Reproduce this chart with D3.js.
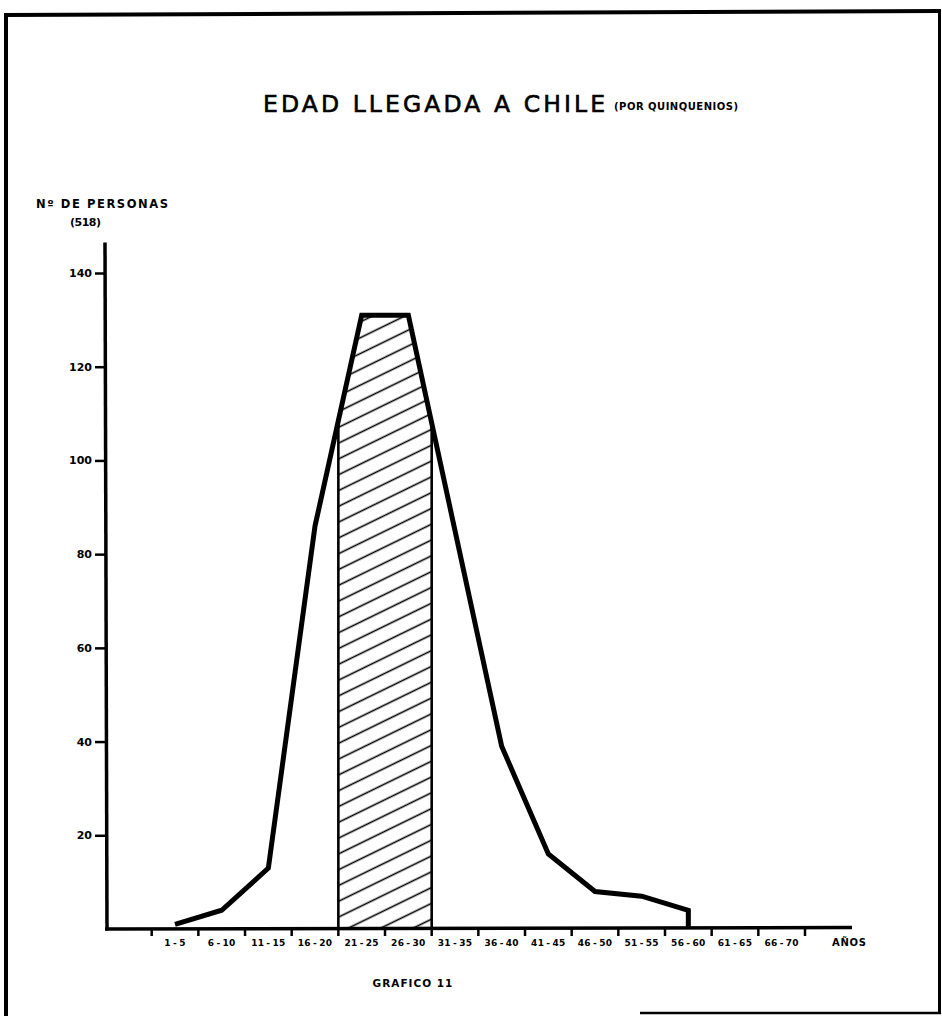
<!DOCTYPE html>
<html>
<head>
<meta charset="utf-8">
<script src="https://cdn.jsdelivr.net/npm/d3@7"></script>
<style>
  html, body { margin: 0; padding: 0; background: #fff; }
  svg { display: block; }
  text { font-family: "DejaVu Sans", "Liberation Sans", sans-serif; fill: #000; }
</style>
</head>
<body>
<svg id="chart" width="942" height="1016"></svg>
<script>
// ---- data ----
const categories = ["1-5","6-10","11-15","16-20","21-25","26-30","31-35","36-40","41-45","46-50","51-55","56-60","61-65","66-70"];
const persons    = [1, 4, 13, 86, 131, 131, 85, 39, 16, 8, 7, 4];   // last two classes empty
const yTicks     = [20, 40, 60, 80, 100, 120, 140];
const highlighted = ["21-25", "26-30"];

const svg = d3.select("#chart");

// frame
const frame = svg.append("g").attr("stroke", "#000").attr("fill", "none");
frame.append("line").attr("x1", 4).attr("y1", 15).attr("x2", 941).attr("y2", 11).attr("stroke-width", 4);
frame.append("line").attr("x1", 6).attr("y1", 13).attr("x2", 6).attr("y2", 1016).attr("stroke-width", 4);
frame.append("line").attr("x1", 939.5).attr("y1", 10).attr("x2", 939.5).attr("y2", 1012).attr("stroke-width", 3);
frame.append("line").attr("x1", 640).attr("y1", 1013).attr("x2", 941).attr("y2", 1013).attr("stroke-width", 2.5);

// scales
const x = d3.scaleBand().domain(categories).range([151.7, 805]).paddingInner(0).paddingOuter(0);
const y = d3.scaleLinear().domain([0, 140]).range([929, 273]);
const bw = x.bandwidth();
const cx = c => x(c) + bw / 2;

// title
svg.append("text").attr("x", 263).attr("y", 112)
  .attr("font-size", 23.5).attr("textLength", 342).attr("lengthAdjust", "spacing")
  .attr("stroke", "#000").attr("stroke-width", 0.6)
  .text("EDAD LLEGADA A CHILE");
svg.append("text").attr("x", 614).attr("y", 110)
  .attr("font-size", 10).attr("font-weight", "bold").attr("textLength", 124).attr("lengthAdjust", "spacing")
  .text("(POR QUINQUENIOS)");

// y label
svg.append("text").attr("x", 36).attr("y", 208)
  .attr("font-size", 11.5).attr("font-weight", "bold").attr("textLength", 132).attr("lengthAdjust", "spacing")
  .text("Nº DE PERSONAS");
svg.append("text").attr("x", 70).attr("y", 226)
  .attr("font-size", 11).attr("font-weight", "bold").attr("textLength", 31).attr("lengthAdjust", "spacing")
  .text("(518)");

// hatch pattern
const defs = svg.append("defs");
const pat = defs.append("pattern").attr("id", "hatch").attr("patternUnits", "userSpaceOnUse")
  .attr("width", 20).attr("height", 14.2).attr("patternTransform", "rotate(-26)");
pat.append("line").attr("x1", 0).attr("y1", 7.1).attr("x2", 20).attr("y2", 7.1)
  .attr("stroke", "#000").attr("stroke-width", 1.6);

// line points
const pts = persons.map((v, i) => [cx(categories[i]), y(v)]);
function yAt(px) {
  for (let i = 0; i < pts.length - 1; i++) {
    const [x0, y0] = pts[i], [x1, y1] = pts[i + 1];
    if (px >= x0 && px <= x1) return y0 + (y1 - y0) * (px - x0) / (x1 - x0);
  }
  return y(0);
}
const hx0 = x(highlighted[0]);
const hx1 = x(highlighted[highlighted.length - 1]) + bw;
const hPoly = [[hx0, y(0)], [hx0, yAt(hx0)]];
pts.forEach(p => { if (p[0] > hx0 && p[0] < hx1) hPoly.push(p); });
hPoly.push([hx1, yAt(hx1)], [hx1, y(0)]);
svg.append("path").attr("d", d3.line()(hPoly) + "Z")
  .attr("fill", "url(#hatch)").attr("stroke", "none");
svg.append("line").attr("x1", hx0).attr("x2", hx0).attr("y1", y(0)).attr("y2", yAt(hx0))
  .attr("stroke", "#000").attr("stroke-width", 2.6);
svg.append("line").attr("x1", hx1).attr("x2", hx1).attr("y1", y(0)).attr("y2", yAt(hx1))
  .attr("stroke", "#000").attr("stroke-width", 2.6);

// y axis
const yAxis = d3.axisLeft(y).tickValues(yTicks).tickSize(11).tickPadding(3).tickFormat(d3.format("d"));
const gy = svg.append("g").attr("transform", "translate(106,0)").call(yAxis);
gy.select(".domain").remove();
gy.selectAll(".tick line").attr("stroke", "#000").attr("stroke-width", 2.5);
gy.selectAll(".tick text").attr("font-size", 11).attr("font-weight", "bold").attr("fill", "#000")
  .attr("font-family", "'DejaVu Sans', sans-serif");
svg.append("line").attr("x1", 105).attr("y1", y(146.5)).attr("x2", 107).attr("y2", y(0) + 1.5)
  .attr("stroke", "#000").attr("stroke-width", 3.5);

// x axis
const xAxis = d3.axisBottom(x).tickSize(0).tickPadding(12);
const gx = svg.append("g").attr("transform", `translate(0,${y(0)})`).call(xAxis);
gx.select(".domain").remove();
gx.selectAll(".tick text").attr("font-size", 9).attr("font-weight", "bold").attr("fill", "#000")
  .attr("font-family", "'DejaVu Sans', sans-serif").attr("dy", "0.5em")
  .attr("letter-spacing", "0.3px")
  .text(d => d.replace("-", "\u2009-\u2009"));
const bounds = categories.map(c => x(c)).concat([x(categories[categories.length - 1]) + bw]);
svg.append("g").selectAll("line").data(bounds).join("line")
  .attr("x1", d => d).attr("x2", d => d).attr("y1", y(0)).attr("y2", y(0) + 7)
  .attr("stroke", "#000").attr("stroke-width", 2.5);
svg.append("line").attr("x1", 105).attr("y1", y(0)).attr("x2", 852).attr("y2", y(0) - 1.5)
  .attr("stroke", "#000").attr("stroke-width", 3.5);
svg.append("text").attr("x", 832).attr("y", 946).attr("font-size", 10).attr("font-weight", "bold")
  .attr("textLength", 34).attr("lengthAdjust", "spacing").text("AÑOS");

// frequency polygon
const linePts = pts.concat([[pts[pts.length - 1][0], y(0)]]);
svg.append("path").attr("d", d3.line()(linePts))
  .attr("fill", "none").attr("stroke", "#000").attr("stroke-width", 5)
  .attr("stroke-linejoin", "miter").attr("stroke-linecap", "butt");

// footer
svg.append("text").attr("x", 413).attr("y", 987).attr("font-size", 10.5).attr("font-weight", "bold")
  .attr("text-anchor", "middle").attr("letter-spacing", "1px").text("GRAFICO 11");
</script>
</body>
</html>
